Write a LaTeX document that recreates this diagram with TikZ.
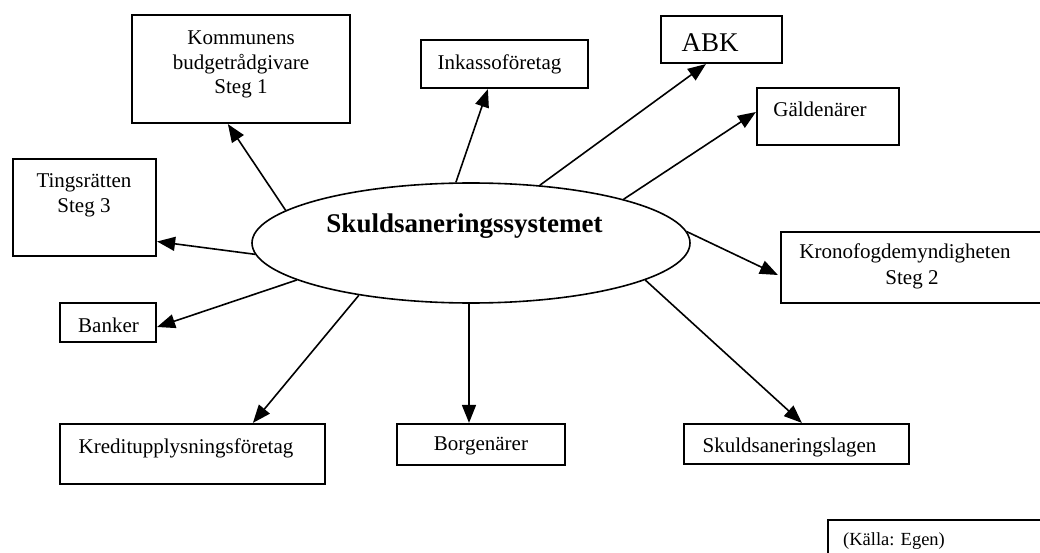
\documentclass[tikz,border=0pt]{standalone}
\usepackage{fontspec}
\setmainfont{Liberation Serif}
\usetikzlibrary{shapes.geometric,arrows.meta,calc}
\tikzset{
  box/.style={draw, rectangle, line width=2.2pt, inner sep=0pt},
  txt/.style={anchor=base, inner sep=0pt, font=\fontsize{21}{25}\selectfont},
  big/.style={anchor=base, inner sep=0pt, font=\fontsize{27}{30}\selectfont},
  small/.style={anchor=base, inner sep=0pt, font=\fontsize{18.5}{22}\selectfont},
  arr/.style={line width=1.6pt, -{Triangle[length=18pt,width=14pt]}},
}
\begin{document}
\begin{tikzpicture}[x=1pt,y=-1pt]
\clip (0,0) rectangle (1040,553);
\fill[white] (0,0) rectangle (1040,553);
% central ellipse
\node[draw, ellipse, line width=1.6pt, minimum width=438pt, minimum height=120pt, inner sep=0pt] (e) at (471,243) {};
\node[anchor=base, inner sep=0pt, font=\fontsize{27}{30}\selectfont\bfseries] (etxt) at (464.5,233) {Skuldsaneringssystemet};
% boxes
\node[box, minimum width=218pt, minimum height=108pt] (komm) at (241,69) {};
\node[txt] (komm1) at (241,45) {Kommunens};
\node[txt] (komm2) at (241,69.5) {budgetrådgivare};
\node[txt] (komm3) at (241,94) {Steg 1};
\node[box, minimum width=143pt, minimum height=97pt] (ting) at (84.5,207.5) {};
\node[txt] (ting1) at (84,188) {Tingsrätten};
\node[txt] (ting2) at (84,213) {Steg 3};
\node[box, minimum width=167pt, minimum height=48pt] (inka) at (504.5,64) {};
\node[txt] (inka1) at (499.5,70) {Inkassoföretag};
\node[box, minimum width=121pt, minimum height=47pt] (abk) at (721.5,39.5) {};
\node[big] (abk1) at (710,52) {ABK};
\node[box, minimum width=142pt, minimum height=57pt] (gald) at (828,116.5) {};
\node[txt] (gald1) at (820,117) {Gäldenärer};
\node[box, minimum width=264pt, minimum height=71pt] (kron) at (913,267.5) {};
\node[txt] (kron1) at (905,258) {Kronofogdemyndigheten};
\node[txt] (kron2) at (912,284) {Steg 2};
\node[box, minimum width=96pt, minimum height=39pt] (bank) at (108,322.5) {};
\node[txt] (bank1) at (108.5,332) {Banker};
\node[box, minimum width=265pt, minimum height=60pt] (kred) at (192.5,454) {};
\node[txt] (kred1) at (186,453) {Kreditupplysningsföretag};
\node[box, minimum width=168pt, minimum height=41pt] (borg) at (481,444.5) {};
\node[txt] (borg1) at (481,450) {Borgenärer};
\node[box, minimum width=225pt, minimum height=40pt] (skul) at (796.5,444) {};
\node[txt] (skul1) at (789.5,452) {Skuldsaneringslagen};
\node[box, minimum width=217pt, minimum height=40pt] (kall) at (936.5,540) {};
\node[small] (kall1) at (894,545) {(Källa: Egen)};
% connectors
\draw[arr] (e.170.2) -- ($(komm.south west)+(97,0)$);
\draw[arr] (e.183.4) -- ($(ting.east)+(0,34)$);
\draw[arr] (e.104) -- ($(inka.south west)+(68,0)$);
\draw[arr] (e.40.5) -- ($(abk.south west)+(46,0)$);
\draw[arr] (e.16.1) -- ($(gald.west)+(0,-4.5)$);
\draw[arr] (e.3) -- ($(kron.west)+(-2,7.5)$);
\draw[arr] (e.192.4) -- ($(bank.east)+(0,4.5)$);
\draw[arr] (e.205.3) -- ($(kred.north west)+(194,0)$);
\draw[arr] ($(e.south)+(-2,0)$) -- ($(borg.north)+(-12,0)$);
\draw[arr] (e.-12.5) -- ($(skul.north west)+(119,0)$);
\end{tikzpicture}
\end{document}
